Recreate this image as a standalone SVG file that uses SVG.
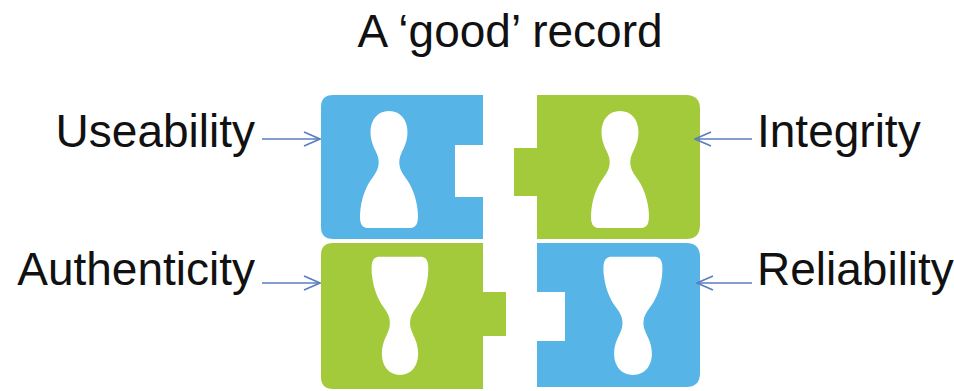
<svg xmlns="http://www.w3.org/2000/svg" xmlns:xlink="http://www.w3.org/1999/xlink" width="954" height="391" viewBox="0 0 954 391">
  <style>
    .label { font-family: "Liberation Sans", Arial, sans-serif; font-size: 46px; fill: #111; }
    .title { font-family: "Liberation Sans", Arial, sans-serif; font-size: 46px; fill: #111; }
    .blue { fill: #56B4E7; }
    .green { fill: #A3CA3A; }
    .pawn { fill: #FFFFFF; }
    .conn { stroke: #5B7DBF; stroke-width: 1.6; fill: none; }
  </style>
  <defs>
    <!-- pawn silhouette, centred on x=0, top at y=0, 117 tall -->
    <path id="pawn" d="M0,0 C11.5,0 18.5,9 18.5,21 C18.5,33 13,39 11,46 C9.5,52 10,58 16,66 C23,75 27,86 28.5,98 C29.5,108 29.5,117 21,117 L-21,117 C-29.5,117 -29.5,108 -28.5,98 C-27,86 -23,75 -16,66 C-10,58 -9.5,52 -11,46 C-13,39 -18.5,33 -18.5,21 C-18.5,9 -11.5,0 0,0 Z"/>
    <marker id="arrow" viewBox="0 0 18 16" refX="17" refY="8" markerWidth="18" markerHeight="16" markerUnits="userSpaceOnUse" orient="auto">
      <path d="M1,1 L17,8 L1,15" fill="none" stroke="#5B7DBF" stroke-width="1.6"/>
    </marker>
  </defs>

  <text class="title" x="510" y="47" text-anchor="middle">A ‘good’ record</text>

  <!-- top-left piece -->
  <g id="useability">
    <path class="blue" d="M333,95 L483,95 L483,145 L455,145 L455,197 L483,197 L483,239 L333,239 Q321,239 321,227 L321,107 Q321,95 333,95 Z"/>
    <use xlink:href="#pawn" class="pawn" transform="translate(389,111)"/>
    <text class="label" x="255" y="147" text-anchor="end">Useability</text>
  </g>

  <!-- top-right piece -->
  <g id="integrity">
    <path class="green" d="M537,95 L686,95 Q700,95 700,109 L700,225 Q700,239 686,239 L537,239 L537,196 L514,196 L514,148 L537,148 Z"/>
    <use xlink:href="#pawn" class="pawn" transform="translate(620,111)"/>
    <text class="label" x="757" y="147">Integrity</text>
  </g>

  <!-- bottom-left piece -->
  <g id="authenticity">
    <path class="green" d="M333,243 L483,243 L483,292 L506,292 L506,336 L483,336 L483,389 L333,389 Q321,389 321,377 L321,255 Q321,243 333,243 Z"/>
    <use xlink:href="#pawn" class="pawn" transform="translate(400,375) scale(0.98,-1.01)"/>
    <text class="label" x="255" y="285" text-anchor="end">Authenticity</text>
  </g>

  <!-- bottom-right piece -->
  <g id="reliability">
    <path class="blue" d="M537,243 L686,243 Q700,243 700,257 L700,373 Q700,387 686,387 L537,387 L537,341 L565,341 L565,292 L537,292 Z"/>
    <use xlink:href="#pawn" class="pawn" transform="translate(633,375) scale(1.02,-1.01)"/>
    <text class="label" x="757" y="285">Reliability</text>
  </g>

  <g id="connectors">
    <line class="conn" x1="262" y1="139" x2="320" y2="139" marker-end="url(#arrow)"/>
    <line class="conn" x1="752" y1="139" x2="695" y2="139" marker-end="url(#arrow)"/>
    <line class="conn" x1="262" y1="283" x2="320" y2="283" marker-end="url(#arrow)"/>
    <line class="conn" x1="752" y1="283" x2="697" y2="283" marker-end="url(#arrow)"/>
  </g>
</svg>
